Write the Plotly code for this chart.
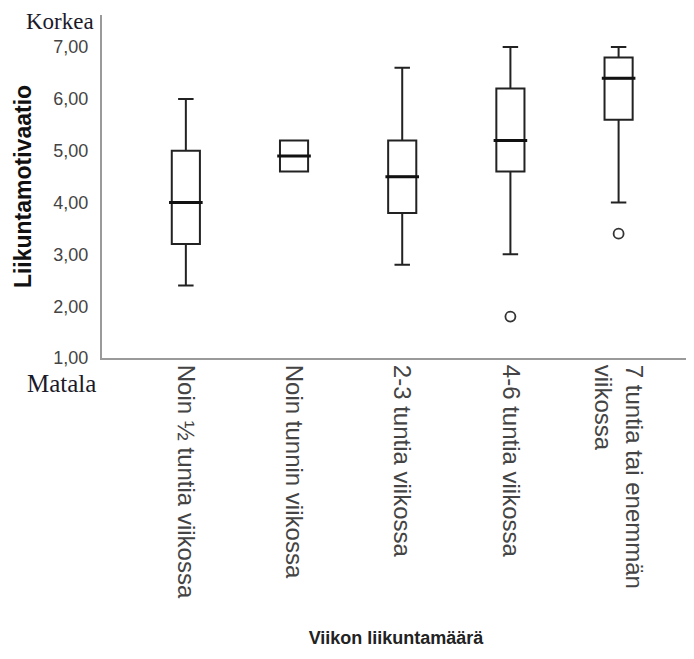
import plotly.graph_objects as go

categories = ["Noin ½ tuntia viikossa", "Noin tunnin viikossa", "2-3 tuntia viikossa",
              "4-6 tuntia viikossa", "7 tuntia tai enemmän<br>viikossa"]
lower_whisker = [2.4, 4.6, 2.8, 3.0, 4.0]
q1_values = [3.2, 4.6, 3.8, 4.6, 5.6]
medians = [4.0, 4.9, 4.5, 5.2, 6.4]
q3_values = [5.0, 5.2, 5.2, 6.2, 6.8]
upper_whisker = [6.0, 5.2, 6.6, 7.0, 7.0]
outlier_cats = ["4-6 tuntia viikossa", "7 tuntia tai enemmän<br>viikossa"]
outlier_vals = [1.8, 3.4]
y_tickvals = [1, 2, 3, 4, 5, 6, 7]
y_ticktext = ["1,00", "2,00", "3,00", "4,00", "5,00", "6,00", "7,00"]

fig = go.Figure()
fig.add_trace(go.Box(
    x=categories, q1=q1_values, median=medians, q3=q3_values,
    lowerfence=lower_whisker, upperfence=upper_whisker,
    width=0.26, whiskerwidth=0.55,
    fillcolor="white", line=dict(color="#222222", width=2),
    boxpoints=False, showlegend=False, hoverinfo="skip",
))
# thicker median lines
fig.add_trace(go.Scatter(
    x=categories, y=medians, mode="markers",
    marker=dict(symbol="line-ew", size=24, line=dict(color="#111111", width=3)),
    showlegend=False, hoverinfo="skip",
))
fig.add_trace(go.Scatter(
    x=outlier_cats, y=outlier_vals, mode="markers",
    marker=dict(symbol="circle-open", size=10, color="#333333", line=dict(width=1.8)),
    showlegend=False, hoverinfo="skip",
))

fig.update_layout(
    width=694, height=659,
    margin=dict(l=94, r=12, t=7, b=309, autoexpand=False),
    paper_bgcolor="white", plot_bgcolor="white",
    font=dict(family="Liberation Sans, Arial, sans-serif"),
    xaxis=dict(
        type="category", categoryorder="array", categoryarray=categories,
        range=[-0.775, 4.66], showline=True, linecolor="#9a9a9a", linewidth=2,
        showgrid=False, zeroline=False, ticks="", tickangle=90, automargin=False,
        tickfont=dict(size=24, color="#444444"),
        title=dict(text="<b>Viikon liikuntamäärä</b>", font=dict(size=18, color="#222222"),
                   standoff=33),
    ),
    yaxis=dict(
        range=[1, 7.62], tickvals=y_tickvals, ticktext=y_ticktext,
        showline=True, linecolor="#9a9a9a", linewidth=2, automargin=False,
        showgrid=False, zeroline=False, ticks="", ticklabelstandoff=8,
        tickfont=dict(size=18, color="#444444"),
        title=dict(text="<b>Liikuntamotivaatio</b>", font=dict(size=23, color="#111111"),
                   standoff=15),
    ),
    annotations=[
        dict(text="Korkea", xref="paper", yref="paper", x=0, y=1, xanchor="right",
             yanchor="middle", xshift=-6, yshift=-6, showarrow=False,
             font=dict(family="Liberation Serif, Times New Roman, serif", size=23, color="#1a1a2a")),
        dict(text="Matala", xref="paper", yref="paper", x=0, y=0, xanchor="right",
             yanchor="middle", xshift=-4, yshift=-25, showarrow=False,
             font=dict(family="Liberation Serif, Times New Roman, serif", size=25, color="#1a1a2a")),
    ],
)

fig.write_html("out.html")
